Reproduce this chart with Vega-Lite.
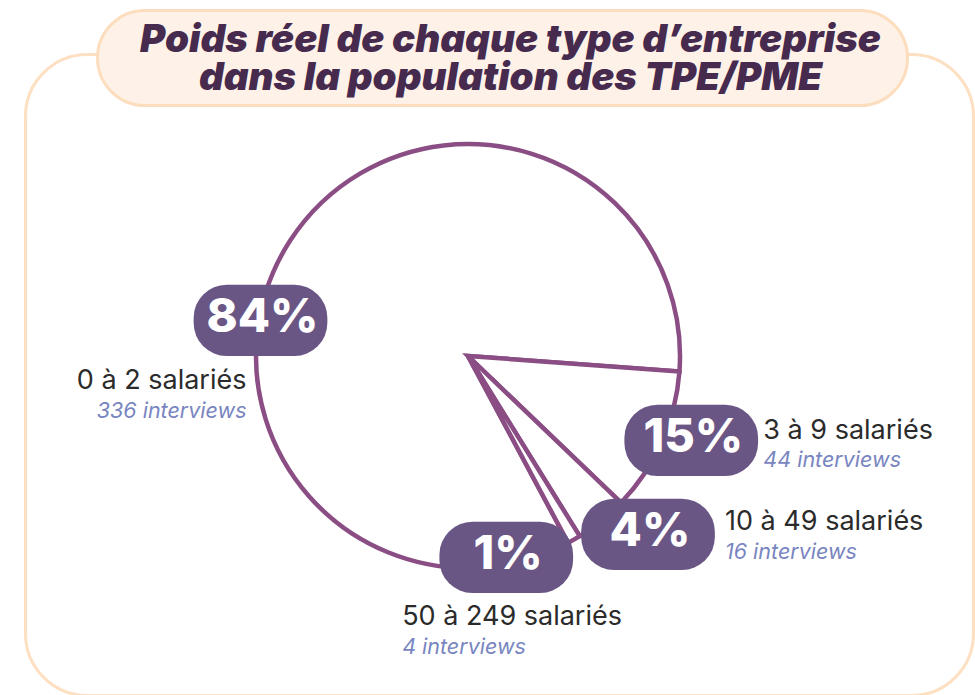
{
  "$schema": "https://vega.github.io/schema/vega-lite/v6.json",
  "autosize": {"type": "pad"},
  "padding": {"left": 23.5, "top": 8.5, "right": 0, "bottom": 0},
  "background": "#ffffff",
  "columns": 1,
  "align": "none",
  "spacing": -657.5,
  "config": {"view": {"stroke": null}},
  "concat": [
    {
      "width": 948,
      "height": 641,
      "view": {"stroke": "#FDDFC1", "strokeWidth": 3, "cornerRadius": 62, "fill": null},
      "data": {"values": []},
      "mark": "point"
    },
    {
      "spacing": 0,
      "vconcat": [
        {"width": 10, "height": 6, "data": {"values": []}, "mark": "point"},
        {
          "width": 885,
          "height": 620,
          "data": {
            "values": [
              {"taille": "0 à 2 salariés", "pourcentage": "84%", "part": 84, "interviews": "336 interviews"},
              {"taille": "3 à 9 salariés", "pourcentage": "15%", "part": 11, "interviews": "44 interviews"},
              {"taille": "10 à 49 salariés", "pourcentage": "4%", "part": 4, "interviews": "16 interviews"},
              {"taille": "50 à 249 salariés", "pourcentage": "1%", "part": 1, "interviews": "4 interviews"}
            ]
          },
          "encoding": {
            "theta": {"field": "part", "type": "quantitative", "stack": true, "scale": {"range": [2.6494, 8.9326]}},
            "order": {"field": "part", "type": "quantitative", "sort": "descending"}
          },
          "layer": [
            {"mark": {"type": "arc", "outerRadius": 212, "fill": "#ffffff", "stroke": "#8B4E84", "strokeWidth": 4.5}},

            {"mark": {"type": "text", "font": "DejaVu Sans", "fontSize": 75, "align": "center", "baseline": "middle", "radius": 209, "thetaOffset": -0.3927, "dx": -2, "fill": "#6A5685", "stroke": "#6A5685", "strokeWidth": 66, "strokeJoin": "round"},
             "encoding": {"text": {"condition": {"test": "datum.taille === '0 à 2 salariés'", "value": "—"}, "value": ""}}},
            {"mark": {"type": "text", "font": "DejaVu Sans", "fontSize": 75, "align": "center", "baseline": "middle", "radius": 239.6, "thetaOffset": -0.0716, "dx": -2, "fill": "#6A5685", "stroke": "#6A5685", "strokeWidth": 66, "strokeJoin": "round"},
             "encoding": {"text": {"condition": {"test": "datum.taille === '3 à 9 salariés'", "value": "—"}, "value": ""}}},
            {"mark": {"type": "text", "font": "DejaVu Sans", "fontSize": 75, "align": "center", "baseline": "middle", "radius": 253, "thetaOffset": -0.1222, "dx": -2, "fill": "#6A5685", "stroke": "#6A5685", "strokeWidth": 66, "strokeJoin": "round"},
             "encoding": {"text": {"condition": {"test": "datum.taille === '10 à 49 salariés'", "value": "—"}, "value": ""}}},
            {"mark": {"type": "text", "font": "DejaVu Sans", "fontSize": 75, "align": "center", "baseline": "middle", "radius": 203, "thetaOffset": 0.3246, "dx": -2, "fill": "#6A5685", "stroke": "#6A5685", "strokeWidth": 66, "strokeJoin": "round"},
             "encoding": {"text": {"condition": {"test": "datum.taille === '50 à 249 salariés'", "value": "—"}, "value": ""}}},

            {"mark": {"type": "text", "font": "Inter", "fontSize": 47, "fontWeight": 800, "color": "#ffffff", "align": "center", "baseline": "middle", "radius": 209, "thetaOffset": -0.3927},
             "encoding": {"text": {"condition": {"test": "datum.taille === '0 à 2 salariés'", "field": "pourcentage"}, "value": ""}}},
            {"mark": {"type": "text", "font": "Inter", "fontSize": 47, "fontWeight": 800, "color": "#ffffff", "align": "center", "baseline": "middle", "radius": 239.6, "thetaOffset": -0.0716},
             "encoding": {"text": {"condition": {"test": "datum.taille === '3 à 9 salariés'", "field": "pourcentage"}, "value": ""}}},
            {"mark": {"type": "text", "font": "Inter", "fontSize": 47, "fontWeight": 800, "color": "#ffffff", "align": "center", "baseline": "middle", "radius": 253, "thetaOffset": -0.1222},
             "encoding": {"text": {"condition": {"test": "datum.taille === '10 à 49 salariés'", "field": "pourcentage"}, "value": ""}}},
            {"mark": {"type": "text", "font": "Inter", "fontSize": 47, "fontWeight": 800, "color": "#ffffff", "align": "center", "baseline": "middle", "radius": 203, "thetaOffset": 0.3246},
             "encoding": {"text": {"condition": {"test": "datum.taille === '50 à 249 salariés'", "field": "pourcentage"}, "value": ""}}},

            {"mark": {"type": "text", "font": "Inter", "fontSize": 27, "color": "#2B2B2B", "align": "right", "baseline": "alphabetic", "radius": 209, "thetaOffset": -0.3927, "dx": -16, "dy": 71},
             "encoding": {"text": {"condition": {"test": "datum.taille === '0 à 2 salariés'", "field": "taille"}, "value": ""}}},
            {"mark": {"type": "text", "font": "Inter", "fontSize": 27, "color": "#2B2B2B", "align": "left", "baseline": "alphabetic", "radius": 239.6, "thetaOffset": -0.0716, "dx": 70, "dy": 1},
             "encoding": {"text": {"condition": {"test": "datum.taille === '3 à 9 salariés'", "field": "taille"}, "value": ""}}},
            {"mark": {"type": "text", "font": "Inter", "fontSize": 27, "color": "#2B2B2B", "align": "left", "baseline": "alphabetic", "radius": 253, "thetaOffset": -0.1222, "dx": 75, "dy": -2},
             "encoding": {"text": {"condition": {"test": "datum.taille === '10 à 49 salariés'", "field": "taille"}, "value": ""}}},
            {"mark": {"type": "text", "font": "Inter", "fontSize": 27, "color": "#2B2B2B", "align": "left", "baseline": "alphabetic", "radius": 203, "thetaOffset": 0.3246, "dx": -106, "dy": 70},
             "encoding": {"text": {"condition": {"test": "datum.taille === '50 à 249 salariés'", "field": "taille"}, "value": ""}}},

            {"mark": {"type": "text", "font": "Inter", "fontSize": 21.5, "fontStyle": "italic", "color": "#7885C0", "align": "right", "baseline": "alphabetic", "radius": 209, "thetaOffset": -0.3927, "dx": -16, "dy": 100},
             "encoding": {"text": {"condition": {"test": "datum.taille === '0 à 2 salariés'", "field": "interviews"}, "value": ""}}},
            {"mark": {"type": "text", "font": "Inter", "fontSize": 21.5, "fontStyle": "italic", "color": "#7885C0", "align": "left", "baseline": "alphabetic", "radius": 239.6, "thetaOffset": -0.0716, "dx": 70, "dy": 29},
             "encoding": {"text": {"condition": {"test": "datum.taille === '3 à 9 salariés'", "field": "interviews"}, "value": ""}}},
            {"mark": {"type": "text", "font": "Inter", "fontSize": 21.5, "fontStyle": "italic", "color": "#7885C0", "align": "left", "baseline": "alphabetic", "radius": 253, "thetaOffset": -0.1222, "dx": 75, "dy": 27},
             "encoding": {"text": {"condition": {"test": "datum.taille === '10 à 49 salariés'", "field": "interviews"}, "value": ""}}},
            {"mark": {"type": "text", "font": "Inter", "fontSize": 21.5, "fontStyle": "italic", "color": "#7885C0", "align": "left", "baseline": "alphabetic", "radius": 203, "thetaOffset": 0.3246, "dx": -106, "dy": 99},
             "encoding": {"text": {"condition": {"test": "datum.taille === '50 à 249 salariés'", "field": "interviews"}, "value": ""}}}
          ]
        }
      ]
    },
    {
      "spacing": 0,
      "hconcat": [
        {"width": 70, "height": 95, "data": {"values": []}, "mark": "point"},
        {
          "width": 810,
          "height": 95,
          "view": {"fill": "#FEF2E8", "stroke": "#FCDDBD", "strokeWidth": 3, "cornerRadius": 47.5},
          "data": {"values": [{"titre": ["Poids réel de chaque type d’entreprise", "dans la population des TPE/PME"]}]},
          "mark": {"type": "text", "font": "Inter", "fontSize": 38.5, "fontWeight": 900, "fontStyle": "italic", "color": "#472B4E", "align": "center", "baseline": "alphabetic", "dx": 8, "dy": -6.5, "lineHeight": 38.5},
          "encoding": {"text": {"field": "titre", "type": "nominal"}}
        }
      ]
    }
  ]
}
